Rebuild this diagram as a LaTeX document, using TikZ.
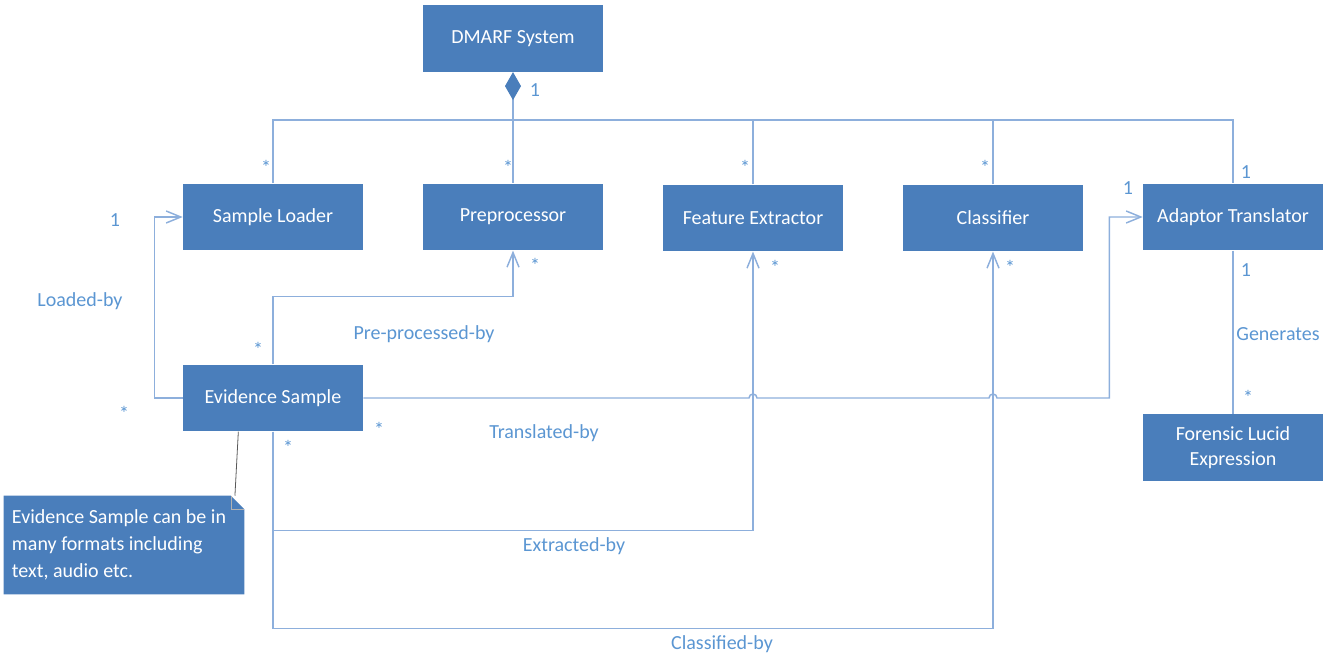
\documentclass[tikz,border=0pt]{standalone}
\usepackage{fontspec}
\setmainfont{Carlito}
\usetikzlibrary{arrows.meta,backgrounds}
\definecolor{boxblue}{RGB}{74,126,187}
\definecolor{linkblue}{RGB}{141,175,220}
\definecolor{labblue}{RGB}{91,150,210}
\tikzset{
  cls/.style={fill=boxblue,text=white,minimum width=135pt,minimum height=50pt,inner sep=2pt,align=center,font=\fontsize{15}{19}\selectfont},
  link/.style={draw=linkblue,line width=1.1pt},
  lab/.style={text=labblue,inner sep=0pt,font=\fontsize{15}{19}\selectfont},
  notebox/.style={text=white,text width=168pt,minimum height=73.5pt,inner xsep=6pt,align=flush left,font=\fontsize{15}{20}\selectfont}
}
\begin{document}
\begin{tikzpicture}[x=0.75pt,y=-0.75pt,>={Straight Barb[length=11pt,width=9pt]}]
\useasboundingbox (0,0) rectangle (1335,659);
% classes
\node[cls] (dm) at (513,38.5) {DMARF System};
\node[cls] (sl) at (273,217) {Sample Loader};
\node[cls] (pp) at (513,217) {Preprocessor};
\node[cls] (fe) at (753,218) {Feature Extractor};
\node[cls] (cl) at (993,218) {Classifier};
\node[cls] (at) at (1233,217) {Adaptor Translator};
\node[cls] (es) at (273,398) {Evidence Sample};
\node[cls] (fl) at (1233,447.5) {Forensic Lucid\\Expression};
% note
\node[notebox] (nt) at (124,545) {Evidence Sample can be in\\many formats including\\text, audio etc.};
\begin{scope}[on background layer]
\fill[boxblue] (nt.south west) -- (nt.north west) -- ([xshift=-10pt]nt.north east) -- ([yshift=-10pt]nt.north east) -- (nt.south east) -- cycle;
\end{scope}
\draw[gray!60,line width=0.4pt] ([xshift=-10pt]nt.north east) -- ([xshift=-10pt,yshift=-10pt]nt.north east) -- ([yshift=-10pt]nt.north east);
\draw[gray!70!black,line width=0.6pt] ([xshift=-26pt]es.south) -- ([xshift=-7pt]nt.north east);
% composition bus
\coordinate (bus) at (0,120);
\draw[link,{Diamond[length=21pt,width=12pt,color=boxblue]}-] (dm.south) -- (pp.north);
\draw[link] (sl.north) -- (sl.north |- bus) -| (at.north);
\draw[link] (fe.north) -- (fe.north |- bus);
\draw[link] (cl.north) -- (cl.north |- bus);
% associations
\draw[link,->] (es.west) -- ++(-28,0) |- (sl.west);
\draw[link,->] (es.north) -- ++(0,-68) -| (pp.south);
\draw[link,->] (es.east) -- ([xshift=-3pt]fe.south |- es.east) arc[start angle=180,end angle=0,radius=3pt]
  -- ([xshift=-3pt]cl.south |- es.east) arc[start angle=180,end angle=0,radius=3pt]
  -- ([xshift=-25pt]at.west |- es.east) |- (at.west);
\draw[link,->] (es.south) -- ++(0,99) -| (fe.south);
\draw[link,->] (es.south) -- ++(0,197) -| (cl.south);
\draw[link] (at.south) -- (fl.north);
% multiplicities and roles
\node[lab] (m0) at (535,90) {1};
\foreach \n/\x in {a/266,b/508,c/745,d/985}
  \node[lab] (s\n) at (\x,167) {*};
\node[lab] (m1) at (1246,172) {1};
\node[lab] (m2) at (115,220) {1};
\node[lab] (r1) at (80,301) {Loaded-by};
\node[lab] (m3) at (124,413) {*};
\node[lab] (m4) at (258,349) {*};
\node[lab] (r2) at (424,334) {Pre-processed-by};
\node[lab] (m5) at (535,265) {*};
\node[lab] (m6) at (775,267) {*};
\node[lab] (m7) at (1010,267) {*};
\node[lab] (m8) at (1128,188) {1};
\node[lab] (m9) at (1246,270) {1};
\node[lab] (r3) at (1278,334) {Generates};
\node[lab] (m10) at (1248,397) {*};
\node[lab] (m11) at (379,429) {*};
\node[lab] (r4) at (544,433) {Translated-by};
\node[lab] (m12) at (288,447) {*};
\node[lab] (r5) at (574,546) {Extracted-by};
\node[lab] (r6) at (722,644) {Classified-by};
\end{tikzpicture}
\end{document}
